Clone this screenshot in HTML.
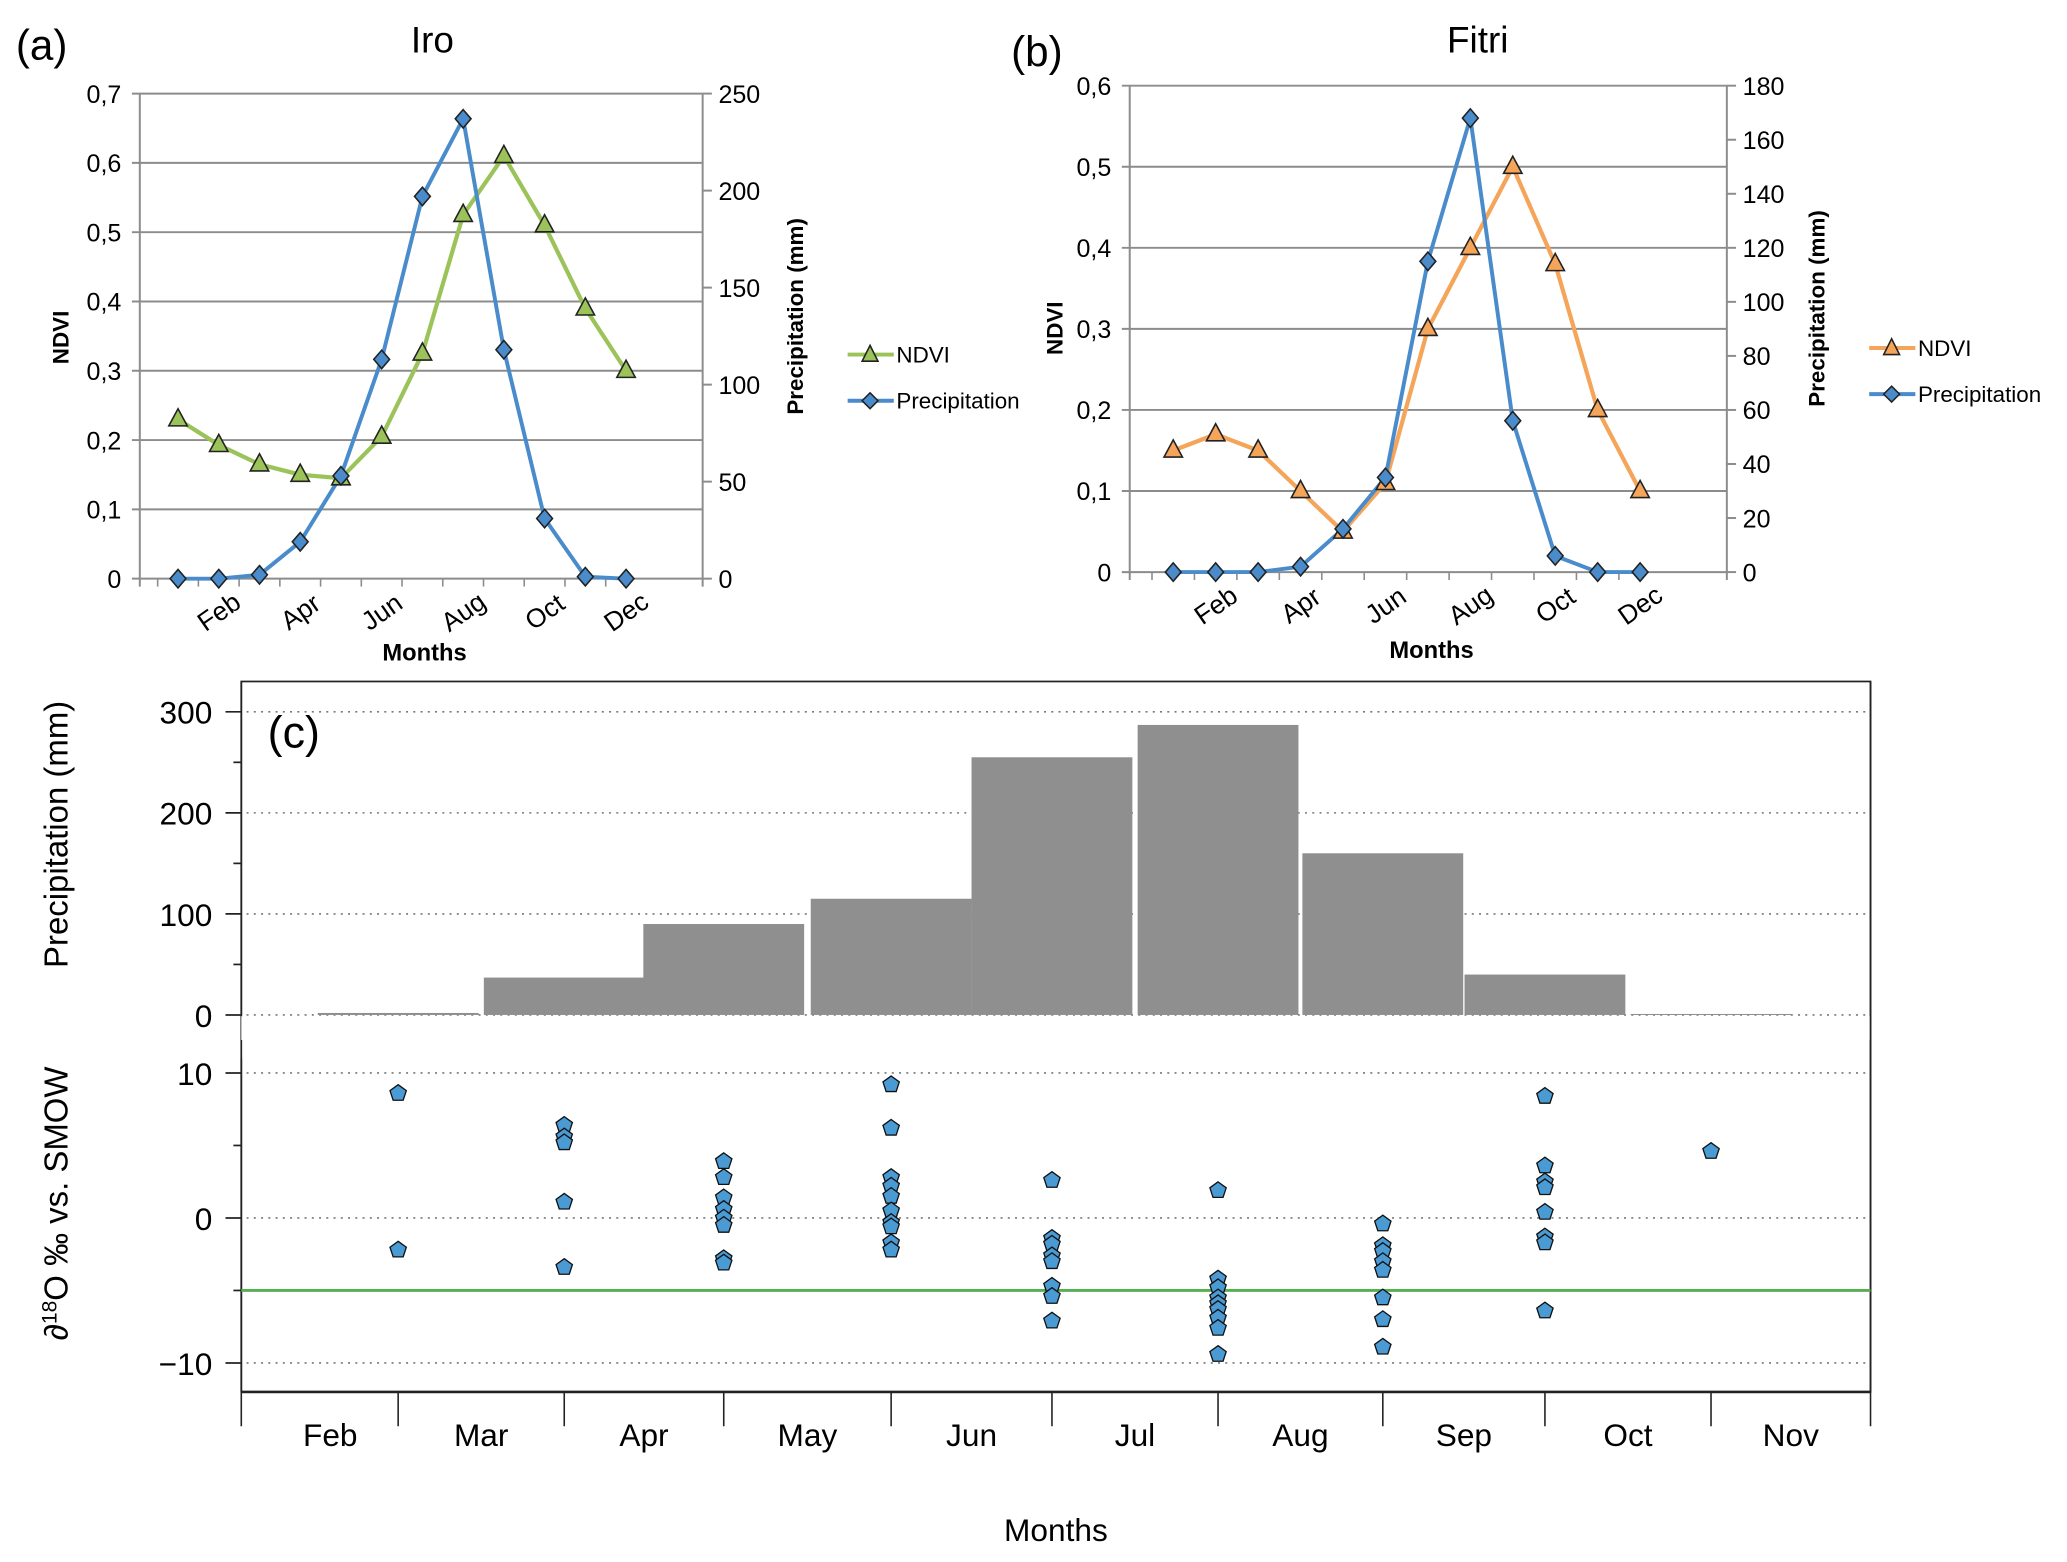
<!DOCTYPE html>
<html><head><meta charset="utf-8"><style>
html,body{margin:0;padding:0;background:#fff}
svg{display:block}
text{font-family:"Liberation Sans",sans-serif}
</style></head><body>
<svg id="s" width="2067" height="1562" viewBox="0 0 1568 1185" xmlns="http://www.w3.org/2000/svg">
<rect width="1568" height="1185" fill="#fff"/>
<g id="g"></g>
</svg>
<script>
// ---- Panel (a) Iro ----
const months = ["Jan","Feb","Mar","Apr","May","Jun","Jul","Aug","Sep","Oct","Nov","Dec"];
const iroNdvi = [0.23,0.193,0.165,0.15,0.145,0.205,0.325,0.525,0.61,0.51,0.39,0.30];
const iroPrecip = [0,0,2,19,53,113,197,237,118,31,1,0];
const iroNdviTicks = ["0","0,1","0,2","0,3","0,4","0,5","0,6","0,7"];
const iroPrecipTicks = ["0","50","100","150","200","250"];
// ---- Panel (b) Fitri ----
const fitNdvi = [0.15,0.17,0.15,0.10,0.05,0.11,0.30,0.40,0.50,0.38,0.20,0.10];
const fitPrecip = [0,0,0,2,16,35,115,168,56,6,0,0];
const fitNdviTicks = ["0","0,1","0,2","0,3","0,4","0,5","0,6"];
const fitPrecipTicks = ["0","20","40","60","80","100","120","140","160","180"];
const monthLabelsShown = ["Feb","Apr","Jun","Aug","Oct","Dec"];
// ---- Panel (c) ----
const cMonths = ["Feb","Mar","Apr","May","Jun","Jul","Aug","Sep","Oct","Nov"];
const cBars = [2,37,90,115,255,287,160,40,1];
const cIso = [
 [8.6,-2.2],
 [6.4,5.6,5.2,1.1,-3.4],
 [3.9,2.8,1.4,0.6,0,-0.5,-2.8,-3.1],
 [9.2,6.2,2.8,2.2,1.5,0.5,-0.3,-0.6,-1.7,-2.2],
 [2.6,-1.4,-1.8,-2.6,-3.0,-4.7,-5.4,-7.1],
 [1.9,-4.2,-4.8,-5.5,-5.9,-6.3,-6.9,-7.6,-9.4],
 [-0.4,-1.9,-2.3,-3.0,-3.6,-5.5,-7.0,-8.9],
 [8.4,3.6,2.5,2.1,0.4,-1.3,-1.7,-6.4],
 [4.6]
];
const barTicks = [0,100,200,300];
const isoTicks = [-10,0,10];
const refLine = -5;

const NS="http://www.w3.org/2000/svg";
const G=document.getElementById('g');
function el(t,a,txt,p){const e=document.createElementNS(NS,t);for(const k in a)e.setAttribute(k,a[k]);if(txt!==undefined)e.textContent=txt;(p||G).appendChild(e);return e;}

function lineChart(cfg){
  const {L,R,T,B,x0,step,nd,pr,ndMax,prMax,ndT,prT,col,marker}=cfg;
  const yN=v=>B-(v/ndMax)*(B-T), yP=v=>B-(v/prMax)*(B-T), xM=i=>x0+i*step;
  ndT.forEach((t,i)=>{const v=i*ndMax/(ndT.length-1);const y=yN(v);
    const gl=el('line',{x1:L-6,x2:R,y1:y,y2:y,stroke:'#8c8c8c','stroke-width':1.5});
    
    
    const tx=el('text',{x:L-14,y:y+7,'text-anchor':'end','font-size':19},t);
    
    });
  prT.forEach((t,i)=>{const v=i*prMax/(prT.length-1);const y=yP(v);
    el('line',{x1:R,x2:R+7,y1:y,y2:y,stroke:'#8c8c8c','stroke-width':1.5});
    const tx=el('text',{x:R+12,y:y+7,'font-size':19},t);
    
    });
  el('line',{x1:L,x2:L,y1:T,y2:B+6,stroke:'#8c8c8c','stroke-width':1.5});
  el('line',{x1:R,x2:R,y1:T,y2:B+6,stroke:'#8c8c8c','stroke-width':1.5});
  months.forEach((m,i)=>{const x=xM(i);
    el('line',{x1:x-step/2,x2:x-step/2,y1:B,y2:B+6,stroke:'#8c8c8c','stroke-width':1.2});
    if(monthLabelsShown.includes(m)){const tx=el('text',{x:x,y:B+32,'text-anchor':'middle','font-size':20,transform:`rotate(-35 ${x} ${B+25})`},m);
      
      }});
  const ndPts=nd.map((v,i)=>xM(i)+','+yN(v)).join(' ');
  const pl=el('polyline',{points:ndPts,fill:'none',stroke:col,'stroke-width':3.2,'stroke-linejoin':'round'});
  
  
  const pp=el('polyline',{points:pr.map((v,i)=>xM(i)+','+yP(v)).join(' '),fill:'none',stroke:'#4a8ccb','stroke-width':3,'stroke-linejoin':'round'});
  
  
  nd.forEach((v,i)=>{const x=xM(i),y=yN(v);
    const m=el('polygon',{points:`${x},${y-8} ${x+7},${y+5} ${x-7},${y+5}`,fill:marker,stroke:'#222','stroke-width':1.2});
    
    });
  pr.forEach((v,i)=>{const x=xM(i),y=yP(v);
    const m=el('polygon',{points:`${x},${y-7} ${x+6},${y} ${x},${y+7} ${x-6},${y}`,fill:'#4a8ccb',stroke:'#222','stroke-width':1.2});
    
    });
}
lineChart({L:106,R:533,T:71,B:439,x0:135,step:30.9,nd:iroNdvi,pr:iroPrecip,ndMax:0.7,prMax:250,ndT:iroNdviTicks,prT:iroPrecipTicks,col:'#9bc35a',marker:'#9bc35a'});
lineChart({L:857,R:1310,T:65,B:434,x0:890,step:32.2,nd:fitNdvi,pr:fitPrecip,ndMax:0.6,prMax:180,ndT:fitNdviTicks,prT:fitPrecipTicks,col:'#f5a55a',marker:'#f5a55a'});

function legend(x,y,col){
  el('line',{x1:x,x2:x+35,y1:y,y2:y,stroke:col,'stroke-width':3});
  el('polygon',{points:`${x+17},${y-7} ${x+23},${y+5} ${x+11},${y+5}`,fill:col,stroke:'#222','stroke-width':1.2});
  const t1=el('text',{x:x+37,y:y+6,'font-size':17},'NDVI');
  
  
  const y2=y+35;
  el('line',{x1:x,x2:x+35,y1:y2,y2:y2,stroke:'#4a8ccb','stroke-width':3});
  el('polygon',{points:`${x+17},${y2-6} ${x+23},${y2} ${x+17},${y2+6} ${x+11},${y2}`,fill:'#4a8ccb',stroke:'#222','stroke-width':1.2});
  const t2=el('text',{x:x+37,y:y2+6,'font-size':17},'Precipitation');
  
  
}
legend(643,269,'#9bc35a');
legend(1418,264,'#f5a55a');

function txt(x,y,s,a,name){const t=el('text',Object.assign({x:x,y:y},a),s);return t;}
txt(12,45,'(a)',{'font-size':32},'panel-label-a');
txt(328,40,'Iro',{'font-size':28,'text-anchor':'middle'},'title-iro');
txt(767,50,'(b)',{'font-size':32},'panel-label-b');
txt(1121,40,'Fitri',{'font-size':28,'text-anchor':'middle'},'title-fitri');
txt(322,501,'Months',{'font-size':18,'font-weight':'bold','text-anchor':'middle'},'x-axis-title-a');
txt(1086,499,'Months',{'font-size':18,'font-weight':'bold','text-anchor':'middle'},'x-axis-title-b');
txt(0,0,'NDVI',{'font-size':17,'font-weight':'bold','text-anchor':'middle',transform:'translate(52 256) rotate(-90)'},'y-axis-title-ndvi-a');
txt(0,0,'NDVI',{'font-size':17,'font-weight':'bold','text-anchor':'middle',transform:'translate(806 249) rotate(-90)'},'y-axis-title-ndvi-b');
txt(0,0,'Precipitation (mm)',{'font-size':17,'font-weight':'bold','text-anchor':'middle',transform:'translate(609 240) rotate(-90)'},'y-axis-title-precip-a');
txt(0,0,'Precipitation (mm)',{'font-size':17,'font-weight':'bold','text-anchor':'middle',transform:'translate(1384 234) rotate(-90)'},'y-axis-title-precip-b');

// ---- Panel (c) ----
const cL=183,cR=1419;
const seps=[183,302,428,549,676,798,924,1049,1172,1298,1419];
const yB=v=>770-v*(230/300);
const yI=v=>924-v*11;
el('rect',{x:cL,y:517,width:cR-cL,height:539,fill:'none',stroke:'#222','stroke-width':1.3});
el('line',{x1:cL,x2:cR,y1:1056,y2:1056,stroke:'#222','stroke-width':2});
barTicks.forEach(v=>{const y=yB(v);
  el('line',{x1:cL+4,x2:cR,y1:y,y2:y,stroke:'#777','stroke-width':1.2,'stroke-dasharray':'1.5 4'});
  el('line',{x1:cL-12,x2:cL,y1:y,y2:y,stroke:'#222','stroke-width':1.3});
  txt(cL-22,y+9,String(v),{'font-size':24,'text-anchor':'end'},'bar-y-tick-label');});
for(let v=50;v<300;v+=100){const y=yB(v);el('line',{x1:cL-6,x2:cL,y1:y,y2:y,stroke:'#222','stroke-width':1.3});}
cBars.forEach((v,i)=>{const c=seps[i+1];
  const r=el('rect',{x:c-61,y:yB(v),width:122,height:770-yB(v),fill:'#8f8f8f'});
  
  });
el('line',{x1:cL,x2:cR,y1:780,y2:780,stroke:'#fff','stroke-width':18});
el('line',{x1:cL,x2:cL,y1:803,y2:1056,stroke:'#222','stroke-width':1.3});
el('line',{x1:cL,x2:cL,y1:517,y2:770,stroke:'#222','stroke-width':1.3});
el('line',{x1:cR,x2:cR,y1:517,y2:1056,stroke:'#222','stroke-width':1.3});
isoTicks.forEach(v=>{const y=yI(v);
  el('line',{x1:cL+4,x2:cR,y1:y,y2:y,stroke:'#777','stroke-width':1.2,'stroke-dasharray':'1.5 4'});
  el('line',{x1:cL-12,x2:cL,y1:y,y2:y,stroke:'#222','stroke-width':1.3});
  txt(cL-22,y+9,v<0?'\u2212'+Math.abs(v):String(v),{'font-size':24,'text-anchor':'end'},'iso-y-tick-label');});
[-5,5].forEach(v=>{const y=yI(v);el('line',{x1:cL-6,x2:cL,y1:y,y2:y,stroke:'#222','stroke-width':1.3});});
const gl=el('line',{x1:cL,x2:cR,y1:yI(refLine),y2:yI(refLine),stroke:'#55b050','stroke-width':2.2});


cIso.forEach((arr,i)=>{const x=seps[i+1];arr.forEach(v=>{const y=yI(v);
  const pts=[];for(let k=0;k<5;k++){const a=-Math.PI/2+k*2*Math.PI/5;pts.push((x+6.5*Math.cos(a)).toFixed(1)+','+(y+6.5*Math.sin(a)).toFixed(1));}
  const p=el('polygon',{points:pts.join(' '),fill:'#4a9ad4',stroke:'#111','stroke-width':1});
  
  });});
seps.forEach(x=>el('line',{x1:x,x2:x,y1:1056,y2:1082,stroke:'#222','stroke-width':1.2}));
cMonths.forEach((m,i)=>txt((seps[i]+seps[i+1])/2+(i==0?8:0),1097,m,{'font-size':24,'text-anchor':'middle'},'month-label-'+m.toLowerCase()));
txt(801,1169,'Months',{'font-size':24,'text-anchor':'middle'},'x-axis-title-c');
txt(203,567,'(c)',{'font-size':34},'panel-label-c');
txt(0,0,'Precipitation (mm)',{'font-size':25,'text-anchor':'middle',transform:'translate(51 633) rotate(-90)'},'y-axis-title-bar');
const it=el('text',{'font-size':25,'text-anchor':'middle',transform:'translate(51 913) rotate(-90)'});


it.innerHTML='<tspan font-style="italic">\u2202</tspan><tspan baseline-shift="super" font-size="16">18</tspan>O \u2030 vs. SMOW';
</script>
</body></html>
